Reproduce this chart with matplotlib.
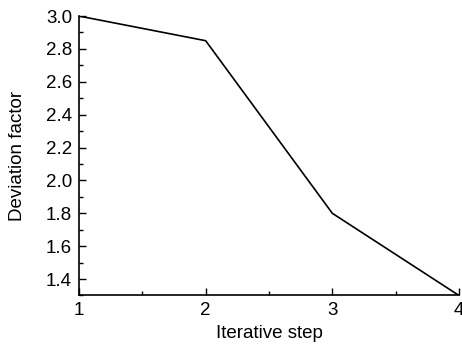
import matplotlib
matplotlib.use("Agg")
import matplotlib.pyplot as plt
from matplotlib.ticker import MultipleLocator

plt.rcParams['font.family'] = ['Liberation Sans', 'DejaVu Sans']

steps = [1, 2, 3, 4]
deviation = [3.0, 2.85, 1.8, 1.3]
xlabel = "Iterative step"
ylabel = "Deviation factor"

fig = plt.figure(figsize=(4.62, 3.49), dpi=100)
ax = fig.add_axes([0.171, 0.1533, 0.8225, 0.8007])
ax.plot(steps, deviation, color='black', linewidth=1.2)
ax.set_xlim(1, 4)
ax.set_ylim(1.3, 3.0)
ax.xaxis.set_major_locator(MultipleLocator(1))
ax.xaxis.set_minor_locator(MultipleLocator(0.5))
ax.yaxis.set_major_locator(MultipleLocator(0.2))
ax.yaxis.set_minor_locator(MultipleLocator(0.1))
ax.spines['top'].set_visible(False)
ax.spines['right'].set_visible(False)
for s in ['left', 'bottom']:
    ax.spines[s].set_linewidth(1.2)
ax.tick_params(which='both', direction='in', labelsize=13.5, width=1, pad=5)
ax.tick_params(which='major', length=5)
ax.tick_params(which='minor', length=3)
ax.set_xlabel(xlabel, fontsize=13.5, labelpad=4)
ax.set_ylabel(ylabel, fontsize=13.5)
ax.yaxis.set_label_coords(-0.139, 0.5)
fig.savefig("out.png", dpi=100)
